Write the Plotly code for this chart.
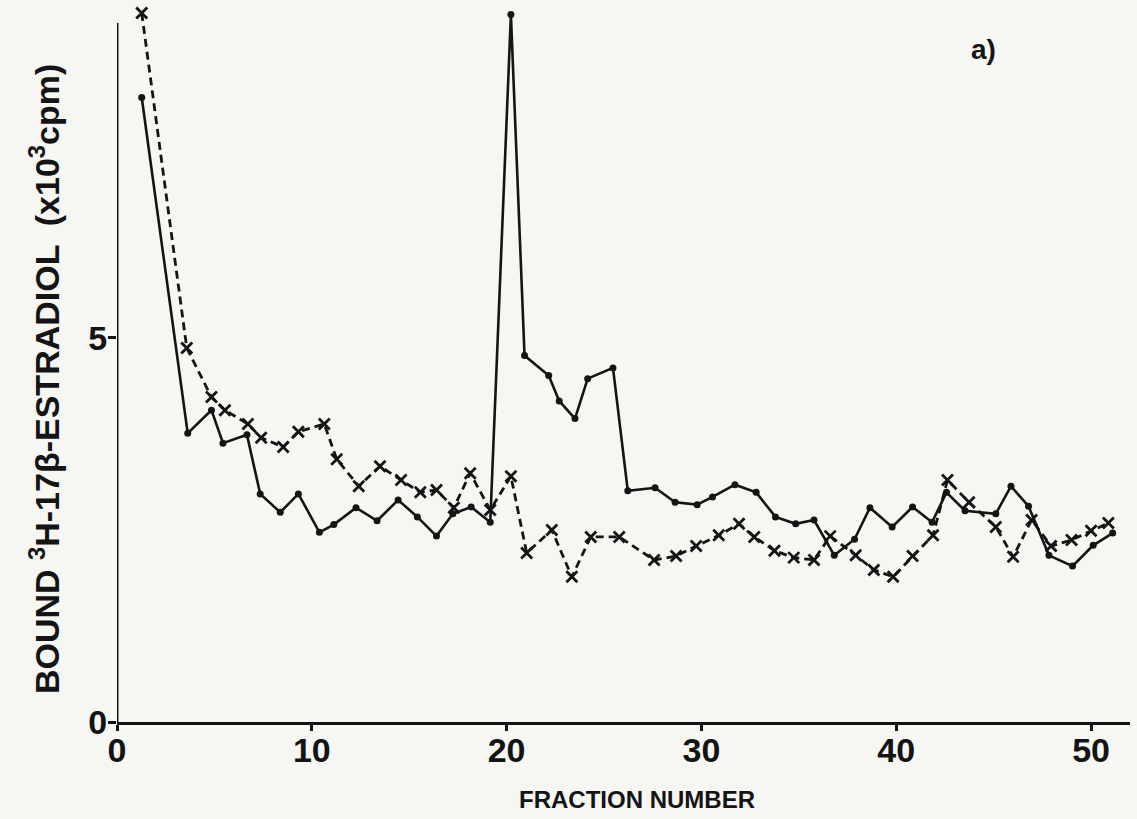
import plotly.graph_objects as go

# Solid line (filled dots)
solid_fraction = [1.27, 3.63, 4.85, 5.44, 6.67, 7.35, 8.38, 9.31, 10.39, 11.13,
                  12.27, 13.35, 14.43, 15.42, 16.40, 17.24, 18.18, 19.16, 20.22, 20.92,
                  22.16, 22.70, 23.51, 24.16, 25.46, 26.22, 27.62, 28.65, 29.78, 30.57,
                  31.72, 32.81, 33.80, 34.84, 35.78, 36.82, 37.86, 38.65, 39.79, 40.84,
                  41.84, 42.58, 43.53, 45.11, 45.89, 46.79, 47.84, 49.05, 50.11, 51.11]
solid_cpm = [8.13, 3.76, 4.06, 3.63, 3.74, 2.97, 2.73, 2.97, 2.47, 2.57,
             2.79, 2.62, 2.89, 2.67, 2.42, 2.71, 2.80, 2.60, 9.21, 4.77,
             4.51, 4.18, 3.95, 4.47, 4.61, 3.01, 3.05, 2.86, 2.83, 2.93,
             3.09, 2.99, 2.67, 2.58, 2.63, 2.17, 2.38, 2.79, 2.54, 2.80,
             2.60, 2.99, 2.75, 2.71, 3.07, 2.81, 2.17, 2.03, 2.30, 2.46]

# Dashed line (x markers)
dashed_fraction = [1.27, 3.58, 4.85, 5.54, 6.72, 7.40, 8.53, 9.31, 10.64, 11.28,
                   12.41, 13.50, 14.58, 15.57, 16.40, 17.29, 18.13, 19.16, 20.22, 21.03,
                   22.32, 23.35, 24.32, 25.78, 27.57, 28.70, 29.73, 30.89, 31.93, 32.71,
                   33.75, 34.74, 35.78, 36.61, 37.92, 38.85, 39.84, 40.84, 41.89, 42.63,
                   43.74, 45.11, 46.00, 46.95, 47.95, 49.00, 50.00, 50.89]
dashed_cpm = [9.23, 4.87, 4.23, 4.06, 3.88, 3.70, 3.58, 3.78, 3.88, 3.42,
              3.07, 3.33, 3.15, 2.99, 3.02, 2.79, 3.24, 2.76, 3.20, 2.20,
              2.50, 1.89, 2.41, 2.41, 2.11, 2.16, 2.29, 2.43, 2.58, 2.41,
              2.23, 2.14, 2.11, 2.42, 2.17, 1.98, 1.89, 2.16, 2.43, 3.15,
              2.86, 2.54, 2.15, 2.63, 2.29, 2.37, 2.49, 2.59]

x_ticks = [0, 10, 20, 30, 40, 50]
y_ticks = [0, 5]

INK = "#141414"
SANS = "Liberation Sans, Arial, Helvetica, sans-serif"

fig = go.Figure()
fig.add_trace(go.Scatter(
    x=dashed_fraction, y=dashed_cpm, mode="lines+markers",
    line=dict(color=INK, width=2.8, dash="8px,5px"),
    marker=dict(symbol="x-thin", size=11, line=dict(color=INK, width=2.8)),
    showlegend=False))
fig.add_trace(go.Scatter(
    x=solid_fraction, y=solid_cpm, mode="lines+markers",
    line=dict(color=INK, width=2.6),
    marker=dict(symbol="circle", size=7, color=INK),
    showlegend=False))

fig.update_layout(
    width=1137, height=819,
    margin=dict(l=117, r=7, t=0, b=97),
    paper_bgcolor="#f6f6f3", plot_bgcolor="#f6f6f3",
    font=dict(family=SANS, color=INK),
    xaxis=dict(range=[0, 52], tickvals=x_ticks, ticktext=[str(v) for v in x_ticks],
               showgrid=False, zeroline=False, showline=True, linecolor=INK, linewidth=3,
               ticks="outside", ticklen=6, tickwidth=2.5, tickcolor=INK,
               ticklabelstandoff=-10,
               tickfont=dict(family=SANS, size=34, color=INK, weight="bold")),
    yaxis=dict(range=[0, 9.4], tickvals=y_ticks, ticktext=[str(v) for v in y_ticks],
               showgrid=False, zeroline=False, showline=False,
               ticks="outside", ticklen=8, tickwidth=2.5, tickcolor=INK,
               ticklabelstandoff=-6,
               tickfont=dict(family=SANS, size=34, color=INK, weight="bold")),
    shapes=[dict(type="line", xref="x", yref="y", x0=0, x1=0, y0=0, y1=9.1,
                 line=dict(color=INK, width=3))],
    annotations=[
        dict(text="<b>FRACTION NUMBER</b>", xref="paper", yref="paper",
             x=0.513, y=-0.108, xanchor="center", yanchor="middle", showarrow=False,
             font=dict(family=SANS, size=24, color=INK)),
        dict(text="<b>BOUND <sup>3</sup>H-17β-ESTRADIOL  (x10<sup>3</sup>cpm)</b>",
             xref="paper", yref="paper", x=-0.072, y=0.475, textangle=-90,
             xanchor="center", yanchor="middle", showarrow=False,
             font=dict(family=SANS, size=34, color=INK)),
        dict(text="<b>a)</b>", xref="paper", yref="paper", x=0.855, y=0.931,
             xanchor="center", yanchor="middle", showarrow=False,
             font=dict(family=SANS, size=28, color=INK)),
    ],
)

fig.write_html("out.html", config={"displayModeBar": False},
               post_script="document.body.style.margin='0';document.body.style.overflow='hidden';")
